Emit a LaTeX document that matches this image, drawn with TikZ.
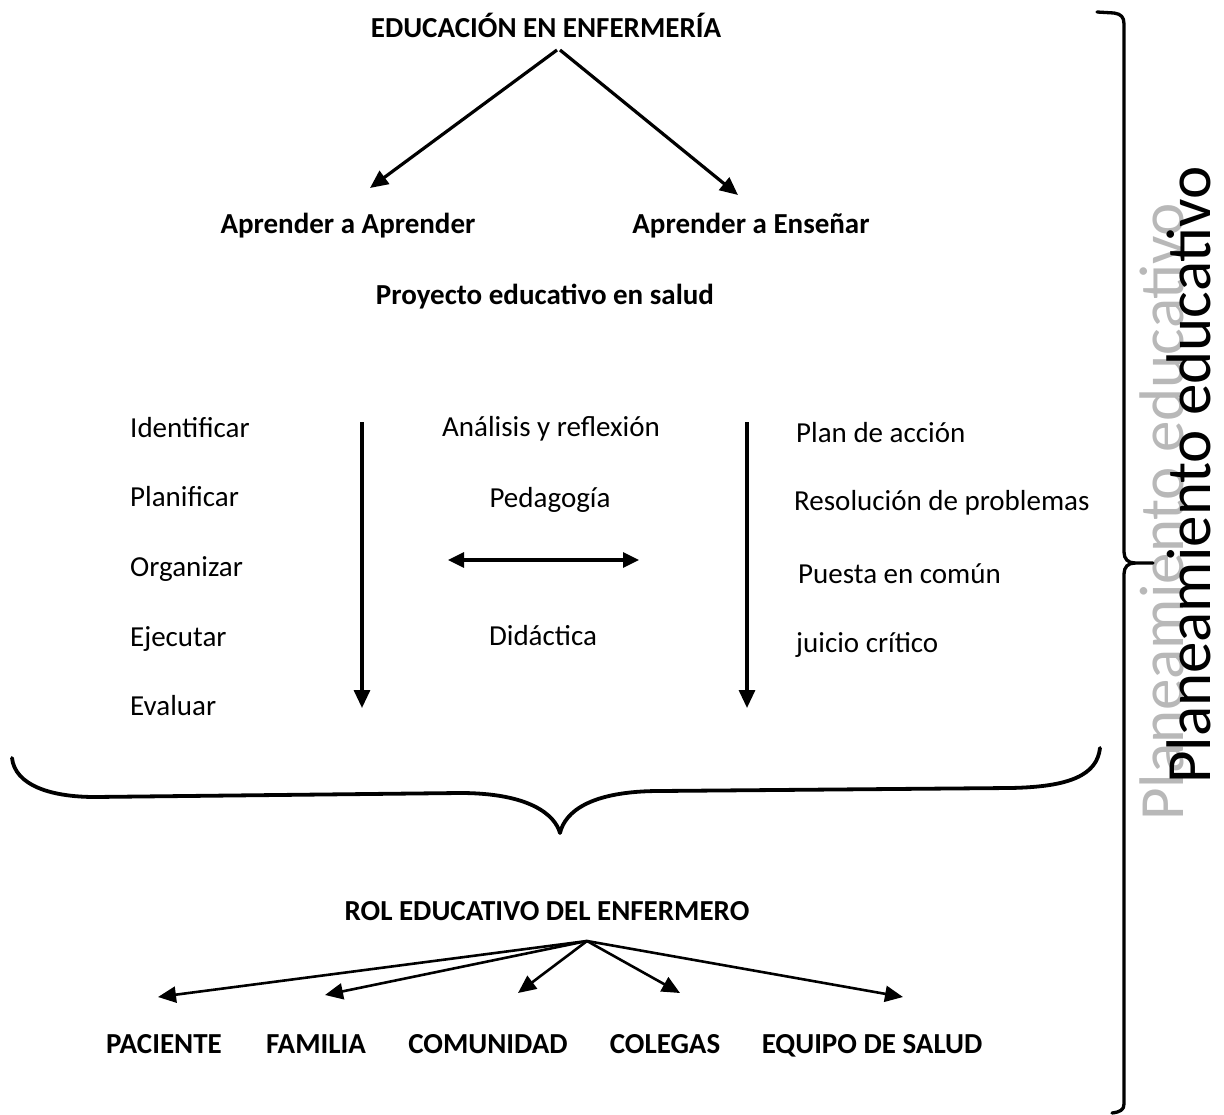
\documentclass[tikz,border=0pt]{standalone}
\usepackage{fontspec}
\setmainfont{Carlito}
\usetikzlibrary{arrows.meta}

\begin{document}
\begin{tikzpicture}[x=1pt,y=-1pt,
  txt/.style={font=\fontsize{29}{34}\selectfont, inner sep=0pt, anchor=base},
  hd/.style={txt, font=\fontsize{29}{34}\selectfont\bfseries},
  big/.style={rotate=90, inner sep=0pt, anchor=base, font=\fontsize{63}{70}\selectfont},
  arr/.style={line width=3.2pt, -{Triangle[length=18pt,width=16pt]}},
  brc/.style={line width=3.8pt, line join=round, line cap=round}]
\useasboundingbox (0,0) rectangle (1224,1115);

\node[hd] (edu) at (546,38) {EDUCACIÓN EN ENFERMERÍA};
\node[hd] (aprA) at (348,234) {Aprender a Aprender};
\node[hd] (aprE) at (751,234) {Aprender a Enseñar};
\node[hd] (proy) at (545,305) {Proyecto educativo en salud};

\foreach \t/\y [count=\i] in {Identificar/437,Planificar/506,Organizar/576,Ejecutar/646,Evaluar/715}
  \node[txt, anchor=base west] (izq\i) at (130,\y) {\t};
\node[txt] (ana) at (551,436) {Análisis y reflexión};
\node[txt] (ped) at (550,507) {Pedagogía};
\node[txt] (did) at (543,645) {Didáctica};
\node[txt, anchor=base west] (der1) at (796,442) {Plan de acción};
\node[txt, anchor=base west] (der2) at (794,510) {Resolución de problemas};
\node[txt, anchor=base west] (der3) at (798,583) {Puesta en común};
\node[txt, anchor=base west] (der4) at (796,652) {juicio crítico};

\node[hd] (rol) at (547,920) {ROL EDUCATIVO DEL ENFERMERO};
\node[hd] (pac) at (164,1053) {PACIENTE};
\node[hd] (fam) at (316,1053) {FAMILIA};
\node[hd] (com) at (488,1053) {COMUNIDAD};
\node[hd] (col) at (665,1053) {COLEGAS};
\node[hd] (equ) at (872,1053) {EQUIPO DE SALUD};

\node[big, text=black!28] (sombra) at (1183,512) {Planeamiento educativo};
\node[big] (plan) at (1210,475) {Planeamiento educativo};

\coordinate (eduA) at (557,50);
\coordinate (eduE) at (560,50);
\coordinate (finA) at (370,188);
\coordinate (finE) at (738,195);
\draw[arr] (eduA) -- (finA);
\draw[arr] (eduE) -- (finE);

\coordinate (izqIni) at (362,422);
\coordinate (izqFin) at (362,708);
\coordinate (derIni) at (747,422);
\coordinate (derFin) at (747,708);
\draw[arr] (izqIni) -- (izqFin);
\draw[arr] (derIni) -- (derFin);
\coordinate (dobA) at (448,560);
\coordinate (dobB) at (639,560);
\draw[arr, {Triangle[length=16pt,width=15pt]}-{Triangle[length=16pt,width=15pt]}] (dobA) -- (dobB);

\draw[brc] (12,758) .. controls (15,785) and (50,797) .. (95,797) -- (460,793)
  .. controls (530,793) and (555,815) .. (560,833)
  .. controls (565,812) and (590,791) .. (660,791) -- (1010,788)
  .. controls (1070,787) and (1097,775) .. (1100,748);

\draw[brc, line width=3.3pt] (1097,12) -- (1114,13) .. controls (1121,14) and (1124,17) .. (1124,24) -- (1124,552)
  .. controls (1124,559) and (1128,563) .. (1135,563) -- (1153,563);
\draw[brc, line width=3.3pt] (1135,563) .. controls (1128,563) and (1124,567) .. (1124,574) -- (1124,1104)
  .. controls (1124,1110) and (1120,1112) .. (1112,1113);

\coordinate (hub) at (587,941);
\coordinate (tPac) at (158,997);
\coordinate (tFam) at (325,995);
\coordinate (tCom) at (518,993);
\coordinate (tCol) at (680,993);
\coordinate (tEqu) at (903,997);
\foreach \t in {tPac,tFam,tCom,tCol,tEqu}
  \draw[arr, line width=2.6pt] (hub) -- (\t);

\end{tikzpicture}
\end{document}
